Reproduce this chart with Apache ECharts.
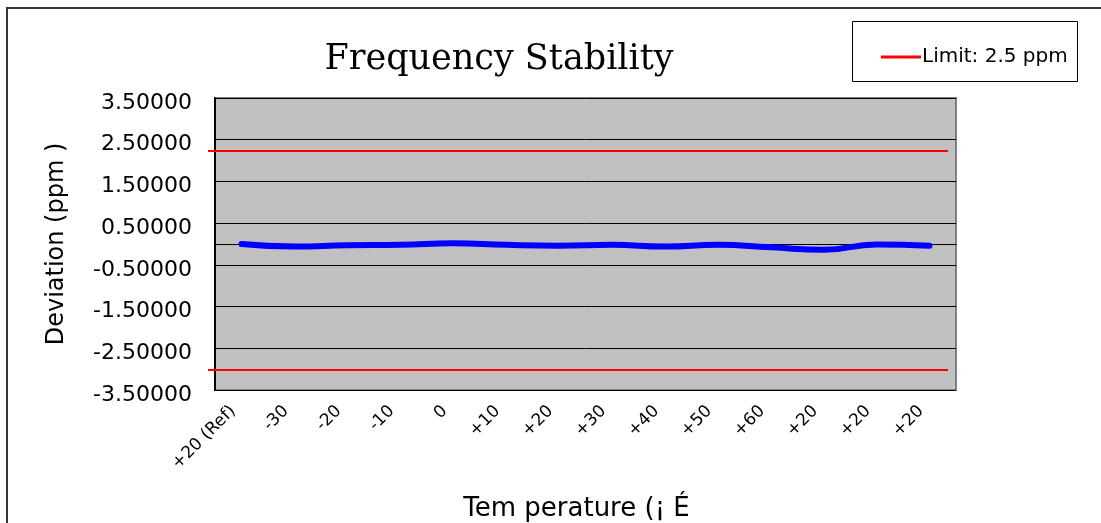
<!DOCTYPE html>
<html>
<head>
<meta charset="utf-8">
<script src="https://cdn.jsdelivr.net/npm/echarts@6/dist/echarts.min.js"></script>
<style>html,body{margin:0;padding:0;background:#fff}#c{width:1101px;height:523px}</style>
</head>
<body>
<div id="c"></div>
<script>
var categories = ["+20 (Ref)", "-30", "-20", "-10", "0", "+10", "+20", "+30", "+40", "+50", "+60", "+20", "+20", "+20"];
var deviation = [0.00, -0.06, -0.03, -0.02, 0.02, -0.02, -0.04, -0.02, -0.06, -0.02, -0.08, -0.14, -0.01, -0.04];
var limitUpper = [2.23, 2.23];
var limitLower = [-3.02, -3.02];
var yTicks = {min: -3.5, max: 3.5, interval: 1};

var chart = echarts.init(document.getElementById('c'));
var sans = '"DejaVu Sans", sans-serif';
chart.setOption({
  animation: false,
  backgroundColor: '#ffffff',
  title: {
    text: 'Frequency Stability',
    left: 494, top: 37, textAlign: 'center',
    textStyle: {fontFamily: '"DejaVu Serif", serif', fontSize: 35, fontWeight: 'normal', color: '#000'}
  },
  legend: {
    data: [{name: 'Limit: 2.5 ppm', icon: 'rect'}],
    left: 876, top: 42,
    itemWidth: 40, itemHeight: 3,
    textStyle: {fontFamily: sans, fontSize: 20, color: '#000', padding: [0,0,0,-4]}
  },
  graphic: [
    {type: 'rect', shape: {x: 7, y: 8, width: 1200, height: 600}, style: {fill: 'none', stroke: '#333', lineWidth: 2}, silent: true, z: -1},
    {type: 'rect', shape: {x: 852.5, y: 21.5, width: 225, height: 60}, style: {fill: 'none', stroke: '#000', lineWidth: 1}, silent: true}
  ],
  grid: [
    {left: 215, top: 98, width: 741, height: 292, show: true, backgroundColor: '#c0c0c0', borderColor: '#808080', borderWidth: 2,
      containLabel: false, outerBoundsMode: 'none'},
    {left: 208, top: 98, width: 740, height: 292, containLabel: false, outerBoundsMode: 'none'}
  ],
  xAxis: [
    {type: 'category', gridIndex: 0, data: categories, boundaryGap: true, position: 'bottom',
      axisLine: {onZero: true, lineStyle: {color: '#000', width: 1}},
      axisTick: {inside: true, length: 5, lineStyle: {color: '#000'}},
      axisLabel: {show: false}, splitLine: {show: false}},
    {type: 'value', gridIndex: 1, min: 0, max: 1, show: false},
    {type: 'category', gridIndex: 0, data: categories, boundaryGap: true, position: 'bottom',
      axisLine: {show: false, onZero: false}, axisTick: {show: false},
      axisLabel: {rotate: 45, margin: 10, padding: [0, 12, 0, 0], fontFamily: sans, fontSize: 17, color: '#000'},
      name: 'Tem perature (¡ É', nameLocation: 'middle', nameGap: 106,
      nameTextStyle: {fontFamily: sans, fontSize: 26, color: '#000', padding: [0, 18, 0, 0]}}
  ],
  yAxis: [
    {type: 'value', gridIndex: 0, min: yTicks.min, max: yTicks.max, interval: yTicks.interval,
      axisLine: {show: true, onZero: false, lineStyle: {color: '#000', width: 2}},
      axisTick: {show: true, inside: true, length: 5, lineStyle: {color: '#000'}},
      axisLabel: {formatter: function(v){return '{a|' + v.toFixed(5) + '}';}, margin: 23,
        rich: {a: {padding: [10, 0, 0, 0], fontFamily: sans, fontSize: 22, color: '#000'}},
        fontFamily: sans, fontSize: 22, color: '#000'},
      splitLine: {show: true, lineStyle: {color: '#000', width: 1}},
      name: 'Deviation (ppm )', nameLocation: 'middle', nameGap: 146, nameRotate: 90,
      nameTextStyle: {fontFamily: sans, fontSize: 24, color: '#000'}},
    {type: 'value', gridIndex: 1, min: yTicks.min, max: yTicks.max, show: false}
  ],
  series: [
    {name: 'Deviation', type: 'line', xAxisIndex: 0, yAxisIndex: 0, data: deviation,
      smooth: true, symbol: 'none', lineStyle: {color: '#0000ff', width: 6, cap: 'round'}, z: 5},
    {name: 'Limit: 2.5 ppm', type: 'line', xAxisIndex: 1, yAxisIndex: 1,
      data: [[0, limitUpper[0]], [1, limitUpper[1]]], symbol: 'none', color: '#ff0000',
      lineStyle: {color: '#ff0000', width: 2}, z: 4},
    {name: 'Limit: 2.5 ppm', type: 'line', xAxisIndex: 1, yAxisIndex: 1,
      data: [[0, limitLower[0]], [1, limitLower[1]]], symbol: 'none', color: '#ff0000',
      lineStyle: {color: '#ff0000', width: 2}, z: 4}
  ]
});
</script>
</body>
</html>
